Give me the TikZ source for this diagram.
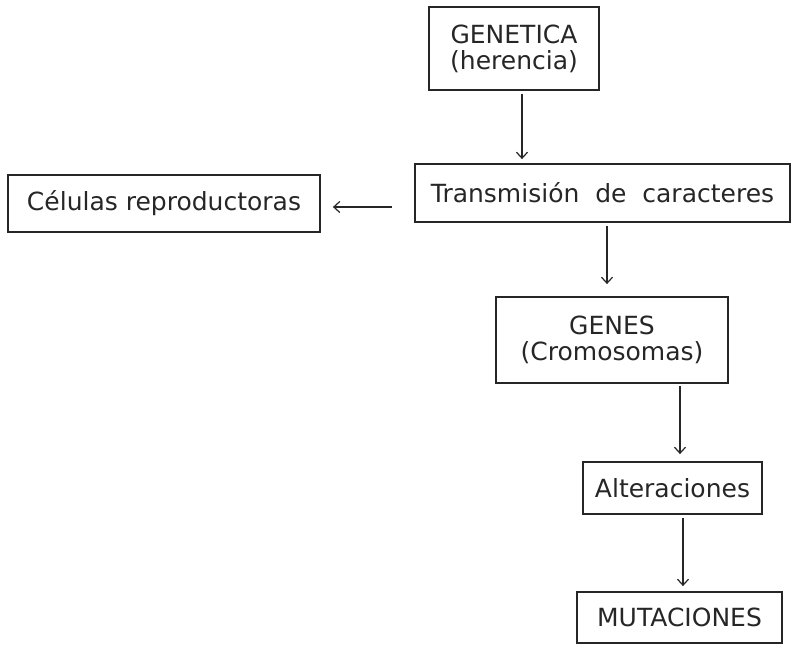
\documentclass[tikz,border=0pt]{standalone}
\usepackage{fontspec}
\setmainfont{DejaVu Sans}
\usetikzlibrary{arrows.meta,positioning}
\tikzstyle{box} = [rectangle, draw=black!85, line width=1.8pt, text centered, align=center, inner sep=0pt, font=\fontsize{25}{26}\selectfont, text=black!85]
\tikzstyle{arrow} = [line width=1.2pt, draw=black!85, -{Straight Barb[length=6pt,width=11pt]}]

\begin{document}
\begin{tikzpicture}[x=1pt,y=1pt,node distance=145pt]
\useasboundingbox (0,0) rectangle (793,646);

\node (gen) [box, minimum width=170pt, minimum height=83pt] at (514,597.5) {GENETICA\\(herencia)};

\node (trans) [box, below of=gen, xshift=88.5pt, yshift=0.5pt, minimum width=375pt, minimum height=58pt] {Transmisión\ \ de\ \ caracteres};

\node (cel) [box, left of=trans, xshift=-293.5pt, yshift=-10.5pt, minimum width=312pt, minimum height=57pt] {Células\ reproductoras};

\node (genes) [box, below of=trans, xshift=9.5pt, yshift=-2pt, minimum width=232pt, minimum height=86pt] {GENES\\(Cromosomas)};

\node (alt) [box, below of=genes, xshift=60.5pt, yshift=-3pt, minimum width=179pt, minimum height=52pt] {Alteraciones};

\node (mut) [box, below of=alt, xshift=7pt, yshift=15.5pt, minimum width=205pt, minimum height=51pt] {MUTACIONES};

\draw [arrow, shorten <=3pt, shorten >=4pt] ([xshift=8pt]gen.south) -- ([xshift=8pt]gen.south |- trans.north);
\draw [arrow, shorten <=22pt, shorten >=12pt] ([yshift=-14pt]trans.west) -- ([yshift=-14pt]trans.west -| cel.east);
\draw [arrow, shorten <=3pt, shorten >=12pt] ([xshift=4.5pt]trans.south) -- ([xshift=4.5pt]trans.south |- genes.north);
\draw [arrow, shorten <=2pt, shorten >=7pt] ([xshift=68pt]genes.south) -- ([xshift=68pt]genes.south |- alt.north);
\draw [arrow, shorten <=3pt, shorten >=5pt] ([xshift=10.5pt]alt.south) -- ([xshift=10.5pt]alt.south |- mut.north);
\end{tikzpicture}
\end{document}
